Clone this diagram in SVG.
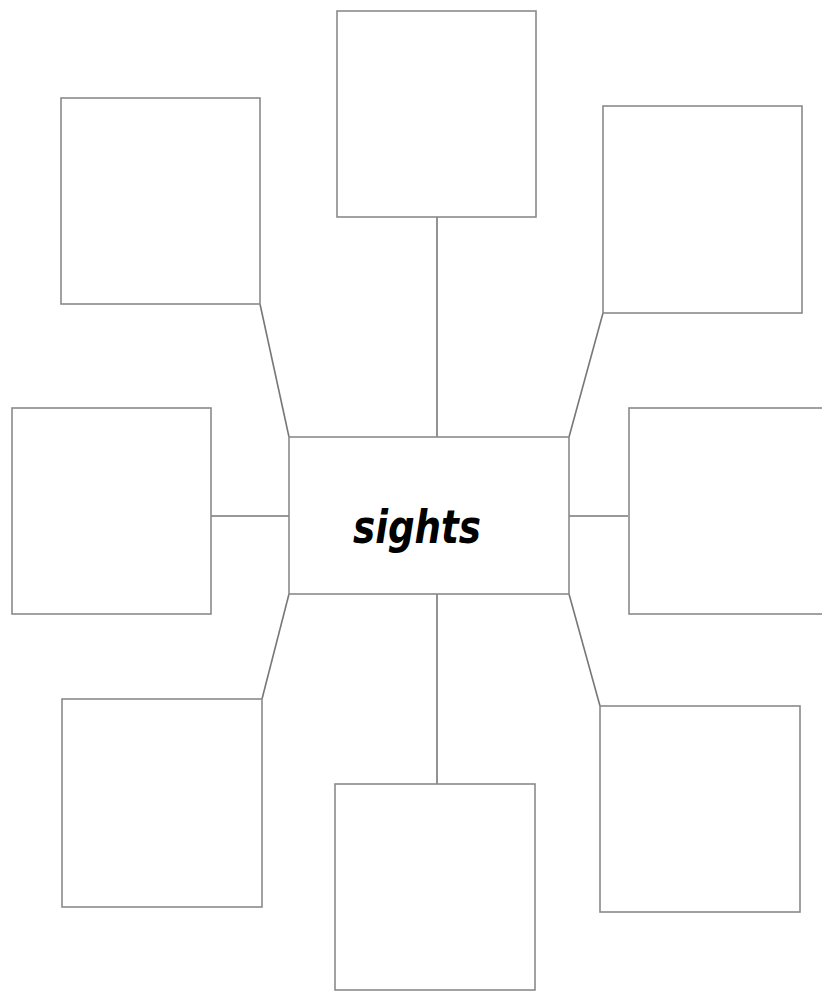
<svg xmlns="http://www.w3.org/2000/svg" width="822" height="991" viewBox="0 0 822 991">
<style>
.box{fill:#fff;stroke:#8a8a8a;stroke-width:1.6}
.ln{stroke:#777;stroke-width:1.6;fill:none}
.lbl{font-family:"DejaVu Sans",sans-serif;font-weight:bold;font-style:italic;font-size:46px;fill:#000}
</style>
<rect width="822" height="991" fill="#fff"/>
<g id="connectors">
<line class="ln" x1="437" y1="217" x2="437" y2="437"/>
<line class="ln" x1="260" y1="304" x2="289" y2="437"/>
<line class="ln" x1="603" y1="313" x2="569" y2="437"/>
<line class="ln" x1="211" y1="516" x2="289" y2="516"/>
<line class="ln" x1="569" y1="516" x2="628" y2="516"/>
<line class="ln" x1="289" y1="594" x2="262" y2="699"/>
<line class="ln" x1="437" y1="594" x2="437" y2="784"/>
<line class="ln" x1="569" y1="594" x2="600" y2="706"/>
</g>
<g id="center"><rect class="box" x="289" y="437" width="280" height="157"/><text class="lbl" x="417" y="543" text-anchor="middle" textLength="128" lengthAdjust="spacingAndGlyphs">sights</text></g>
<g id="top"><rect class="box" x="337" y="11" width="199" height="206"/></g>
<g id="top-left"><rect class="box" x="61" y="98" width="199" height="206"/></g>
<g id="top-right"><rect class="box" x="603" y="106" width="199" height="207"/></g>
<g id="left"><rect class="box" x="12" y="408" width="199" height="206"/></g>
<g id="right"><rect class="box" x="629" y="408" width="199" height="206"/></g>
<g id="bottom-left"><rect class="box" x="62" y="699" width="200" height="208"/></g>
<g id="bottom"><rect class="box" x="335" y="784" width="200" height="206"/></g>
<g id="bottom-right"><rect class="box" x="600" y="706" width="200" height="206"/></g>
</svg>
